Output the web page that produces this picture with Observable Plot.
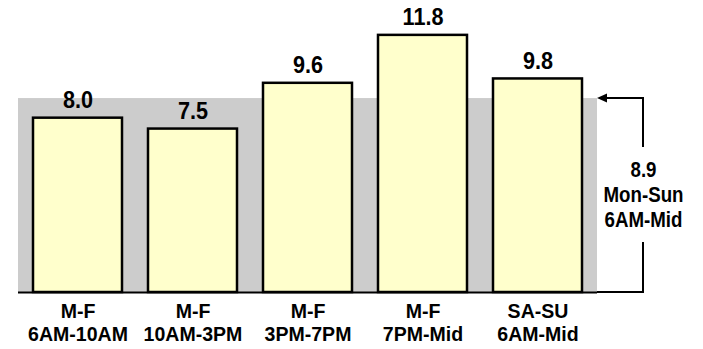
<!DOCTYPE html>
<html><head><meta charset="utf-8">
<script src="https://cdn.jsdelivr.net/npm/d3@7"></script>
<script src="https://cdn.jsdelivr.net/npm/@observablehq/plot@0.6"></script>
<style>body{margin:0;background:#fff}</style>
</head><body><div id="chart"></div>
<script>
const categories = ["M-F\n6AM-10AM", "M-F\n10AM-3PM", "M-F\n3PM-7PM", "M-F\n7PM-Mid", "SA-SU\n6AM-Mid"];
const values = [8.0, 7.5, 9.6, 11.8, 9.8];
const average = 8.9;
const averageLabel = ["Mon-Sun", "6AM-Mid"];

const data = categories.map((c, i) => ({category: c, value: values[i]}));
const fmt = d3.format(".1f");
const font = "'Liberation Sans', Arial, sans-serif";

const bracket = (index, scales, vals, dim) => {
  const xR = dim.width - dim.marginRight;
  const xB = xR + 46;
  const yA = scales.y(average);
  const y0 = scales.y(0);
  const yM = scales.y(average / 2);
  const g = d3.create("svg:g").attr("fill", "none").attr("stroke", "black").attr("stroke-width", 2);
  g.append("path").attr("d", `M${xB},${yM - 48}V${yA}H${xR + 8}`);
  g.append("path").attr("d", `M${xB},${yM + 47}V${y0}H${xR}`);
  g.append("path").attr("d", `M${xR},${yA}l10,-4.5v9z`).attr("fill", "black").attr("stroke", "none");
  return g.node();
};

const chart = Plot.plot({
  width: 703,
  height: 349,
  marginLeft: 18,
  marginRight: 106,
  marginTop: 0,
  marginBottom: 57,
  style: {fontFamily: font, fontWeight: "bold", fontSize: "21px", background: "#fff", color: "black"},
  x: {domain: categories, paddingInner: 0.226, paddingOuter: 0.122, label: null, axis: null},
  y: {domain: [0, 13.4], axis: null, label: null},
  marks: [
    Plot.barY([average], {y: d => d, fill: "#cccccc"}),
    Plot.barY(data, {x: "category", y: "value", fill: "#ffffcc", stroke: "black", strokeWidth: 2.5}),
    Plot.text(data, {x: "category", y: "value", text: d => fmt(d.value), lineAnchor: "bottom", dy: -10, fontSize: 24, fontWeight: "bold", fill: "black"}),
    Plot.axisX({tickSize: 0, tickPadding: 9, fontSize: 21, lineHeight: 1.095, fontWeight: "bold", label: null}),
    Plot.ruleY([0], {stroke: "black", strokeWidth: 2}),
    bracket,
    Plot.text([[fmt(average), ...averageLabel].join("\n")], {frameAnchor: "right", dx: 46, y: average / 2, dy: -2, text: d => d, textAnchor: "middle", lineAnchor: "middle", lineHeight: 1.136, fontSize: 22, fontWeight: "bold", fill: "black"})
  ]
});
document.getElementById("chart").appendChild(chart);

// condense glyphs horizontally to mimic the narrow typeface
const squeeze = {21: 0.93, 24: 0.9, 22: 0.85};
chart.querySelectorAll("text").forEach(t => {
  const k = squeeze[Math.round(parseFloat(getComputedStyle(t).fontSize))] || 1;
  const parts = t.querySelectorAll("tspan");
  const els = parts.length ? Array.from(parts) : [t];
  els.forEach(el => {
    const len = el.getComputedTextLength();
    if (len > 0) {
      el.setAttribute("textLength", (len * k).toFixed(2));
      el.setAttribute("lengthAdjust", "spacingAndGlyphs");
    }
  });
});
</script>
</body></html>
